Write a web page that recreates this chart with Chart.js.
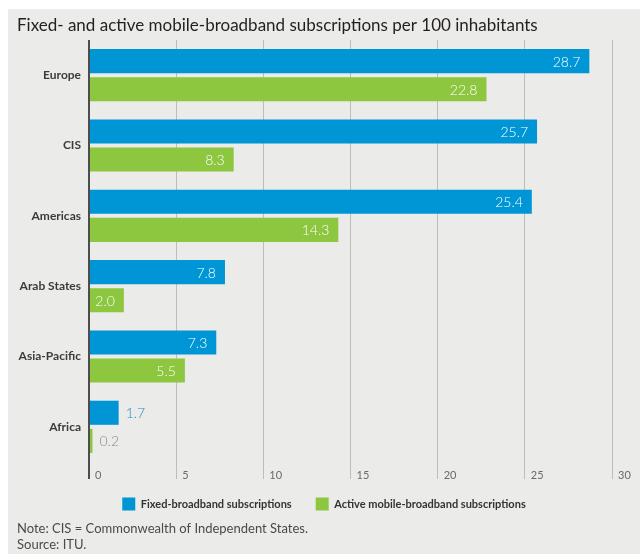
<!DOCTYPE html>
<html>
<head>
<meta charset="utf-8">
<script src="https://cdn.jsdelivr.net/npm/chart.js@4/dist/chart.umd.min.js"></script>
<style>
  html, body { margin: 0; padding: 0; background: #ffffff; }
  #wrap { position: relative; width: 640px; height: 554px; overflow: hidden; background: #ffffff; }
  #panel { position: absolute; left: 8px; top: 9px; right: 0; bottom: 0; background: #ebebe9; }
  #chart { position: absolute; left: 0; top: 0; }
</style>
</head>
<body>
<div id="wrap">
  <div id="panel"></div>
  <canvas id="chart" width="640" height="554"></canvas>
</div>
<script>
// Regions, top to bottom
const regions = ['Europe', 'CIS', 'Americas', 'Arab States', 'Asia-Pacific', 'Africa'];

// Subscriptions per 100 inhabitants
const fixedBroadband = [28.7, 25.7, 25.4, 7.8, 7.3, 1.7];
const mobileBroadband = [22.8, 8.3, 14.3, 2.0, 5.5, 0.2];

// Value axis
const axisMin = 0;
const axisMax = 30;
const axisStep = 5;

const seriesNames = ['Fixed-broadband subscriptions', 'Active mobile-broadband subscriptions'];
const titleText = 'Fixed- and active mobile-broadband subscriptions per 100 inhabitants';
const noteLines = ['Note: CIS = Commonwealth of Independent States.', 'Source: ITU.'];

const BLUE = '#0096d6';
const GREEN = '#8dc63f';

// Writes each bar's value at its end: inside in white when it fits, else just outside
const barValueLabels = {
  id: 'barValueLabels',
  afterDatasetsDraw(chart) {
    const ctx = chart.ctx;
    ctx.save();
    ctx.font = '300 14px Lato, sans-serif';
    ctx.textBaseline = 'middle';
    chart.data.datasets.forEach((ds, di) => {
      const meta = chart.getDatasetMeta(di);
      meta.data.forEach((bar, i) => {
        const text = ds.data[i].toFixed(1);
        const w = ctx.measureText(text).width;
        const len = bar.x - bar.base;
        if (len > w + 14) {
          ctx.fillStyle = '#ffffff';
          ctx.textAlign = 'right';
          ctx.fillText(text, bar.x - 9, bar.y + 1);
        } else {
          ctx.fillStyle = ds.outsideLabelColor;
          ctx.textAlign = 'left';
          ctx.fillText(text, bar.x + 7, bar.y + 1);
        }
      });
    });
    ctx.restore();
  }
};

// The value-axis labels sit beside the tick marks, so let them draw below the
// axis box instead of being clipped to it
const tickLabelRoom = {
  id: 'tickLabelRoom',
  afterLayout(chart) {
    const x = chart.scales.x;
    x.bottom = x.top + 26;
  }
};

function draw() {
  Chart.defaults.font.family = 'Lato, "Open Sans", sans-serif';
  new Chart(document.getElementById('chart'), {
    type: 'bar',
    data: {
      labels: regions,
      datasets: [
        {
          label: seriesNames[0],
          data: fixedBroadband,
          backgroundColor: BLUE,
          outsideLabelColor: '#2a8cc4',
          categoryPercentage: 0.8,
          barPercentage: 0.857
        },
        {
          label: seriesNames[1],
          data: mobileBroadband,
          backgroundColor: GREEN,
          outsideLabelColor: '#7f8f80',
          categoryPercentage: 0.8,
          barPercentage: 0.857
        }
      ]
    },
    options: {
      indexAxis: 'y',
      responsive: false,
      animation: false,
      devicePixelRatio: 1,
      layout: { padding: { left: 17, right: 9, top: 9, bottom: 0 } },
      scales: {
        x: {
          type: 'linear',
          position: 'bottom',
          min: axisMin,
          max: axisMax,
          border: { display: false },
          grid: {
            drawTicks: true,
            tickLength: 17,
            color: (c) => (c.tick && c.tick.value === 0 ? '#4d4d4d' : '#bdbdbb'),
            tickColor: (c) => (c.tick && c.tick.value === 0 ? '#4d4d4d' : '#bdbdbb'),
            lineWidth: (c) => (c.tick && c.tick.value === 0 ? 2 : 1),
            tickWidth: (c) => (c.tick && c.tick.value === 0 ? 2 : 1)
          },
          ticks: {
            stepSize: axisStep,
            align: 'start',
            labelOffset: 6,
            padding: -10,
            maxRotation: 0,
            color: '#6a6a6a',
            font: { size: 11 }
          },
          afterFit(scale) {
            scale.height = 11.5;
            scale.paddingRight = 28;
            scale.paddingLeft = 0;
          }
        },
        y: {
          type: 'category',
          border: { display: false },
          grid: { display: false, drawTicks: false },
          ticks: {
            padding: 8,
            color: '#3b3b3b',
            font: { size: 12, weight: 'bold' }
          },
          afterFit(scale) {
            scale.width = 72;
          }
        }
      },
      plugins: {
        title: {
          display: true,
          text: titleText,
          align: 'start',
          color: '#231f20',
          font: { size: 17, weight: 'normal', lineHeight: 1.2 },
          padding: { top: 6.8, bottom: 3.8 }
        },
        subtitle: {
          display: true,
          position: 'bottom',
          text: noteLines,
          align: 'start',
          color: '#4a4a4a',
          font: { size: 13, weight: 'normal', lineHeight: '16.5px' },
          padding: { top: 0, bottom: 0.5 }
        },
        legend: {
          display: true,
          position: 'bottom',
          align: 'center',
          maxHeight: 48.5,
          labels: {
            boxWidth: 13,
            boxHeight: 13,
            padding: 24,
            color: '#333333',
            font: { size: 11, weight: 'bold' }
          }
        },
        tooltip: { enabled: false }
      }
    },
    plugins: [barValueLabels, tickLabelRoom]
  });
}

Promise.all([
  document.fonts.load('300 14px Lato'),
  document.fonts.load('400 12px Lato'),
  document.fonts.load('700 12px Lato')
]).then(draw, draw);
</script>
</body>
</html>
